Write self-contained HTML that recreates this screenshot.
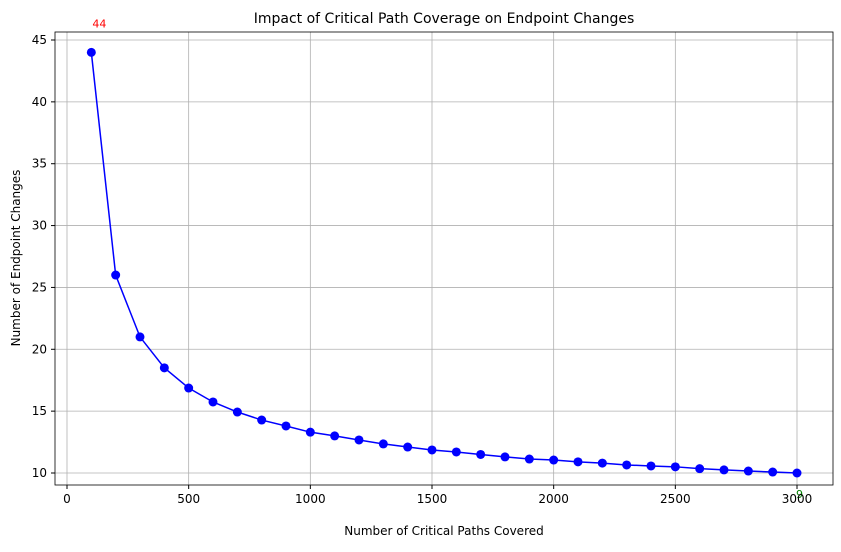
<!DOCTYPE html>
<html><head><meta charset="utf-8"><style>
body{margin:0;background:#fff;font-family:"Liberation Sans","DejaVu Sans",sans-serif;}
svg text{font-family:"DejaVu Sans","Liberation Sans",sans-serif;}
</style></head><body>
<svg id="chart" width="841" height="547" xmlns="http://www.w3.org/2000/svg">
<rect width="841" height="547" fill="#fff"/>
<g id="grid"></g>
<g id="series"></g>
<rect x="55" y="32" width="778" height="453" fill="none" stroke="#000" stroke-width="0.8"/>
<g id="xticks"></g><g id="yticks"></g>
<text x="444" y="23" font-size="14" text-anchor="middle">Impact of Critical Path Coverage on Endpoint Changes</text>
<text x="444" y="535" font-size="12" text-anchor="middle">Number of Critical Paths Covered</text>
<text transform="translate(20,258) rotate(-90)" font-size="12" text-anchor="middle">Number of Endpoint Changes</text>
</svg>
<script>
const paths=[100,200,300,400,500,600,700,800,900,1000,1100,1200,1300,1400,1500,1600,1700,1800,1900,2000,2100,2200,2300,2400,2500,2600,2700,2800,2900,3000];
const changes=[44,26,21,18.5,16.87,15.74,14.93,14.28,13.8,13.3,13.0,12.67,12.35,12.1,11.86,11.7,11.5,11.3,11.13,11.05,10.9,10.8,10.65,10.57,10.5,10.35,10.25,10.16,10.08,10];
const xTicks=[0,500,1000,1500,2000,2500,3000];
const yTicks=[10,15,20,25,30,35,40,45];
const maxLabel="44", minLabel="9";
const NS="http://www.w3.org/2000/svg";
const X=v=>67+v*(730/3000);
const Y=v=>473-(v-10)*(433/35);
function mk(tag,attrs,parent,txt){const e=document.createElementNS(NS,tag);for(const k in attrs)e.setAttribute(k,attrs[k]);if(txt!==undefined)e.textContent=txt;document.getElementById(parent).appendChild(e);return e;}
xTicks.forEach(t=>{
 const g=mk('line',{x1:X(t),x2:X(t),y1:32,y2:485,stroke:'#b0b0b0','stroke-width':0.8},'grid');
 
 
 mk('line',{x1:X(t),x2:X(t),y1:485,y2:489,stroke:'#000'},'xticks');
 const l=mk('text',{x:X(t),y:503,'font-size':12,'text-anchor':'middle'},'xticks',t);
 
 
});
yTicks.forEach(t=>{
 const g=mk('line',{x1:55,x2:833,y1:Y(t),y2:Y(t),stroke:'#b0b0b0','stroke-width':0.8},'grid');
 
 
 mk('line',{x1:51,x2:55,y1:Y(t),y2:Y(t),stroke:'#000'},'yticks');
 const l=mk('text',{x:47,y:Y(t)+4,'font-size':12,'text-anchor':'end'},'yticks',t);
 
 
});
const line=mk('polyline',{points:paths.map((p,i)=>X(p)+','+Y(changes[i])).join(' '),fill:'none',stroke:'#0000ff','stroke-width':1.5},'series');


paths.forEach((p,i)=>{
 const c=mk('circle',{cx:X(p),cy:Y(changes[i]),r:4.5,fill:'#0000ff'},'series');
 
 
});
const a=mk('text',{x:X(paths[0])+1,y:Y(changes[0])-25,'font-size':11,fill:'#ff0000'},'series',maxLabel);


const n=paths.length-1;
const b=mk('text',{x:X(paths[n])-1,y:Y(changes[n])+25,'font-size':11,fill:'#008000'},'series',minLabel);


</script>
</body></html>
